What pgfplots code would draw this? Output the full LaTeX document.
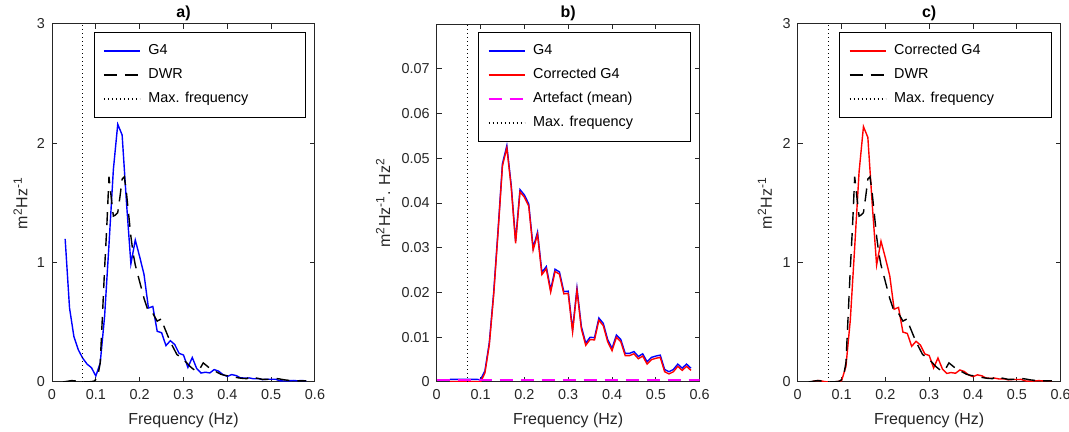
\documentclass[border=0pt]{standalone}
\usepackage{fontspec}
\setmainfont{Liberation Sans}
\usepackage{pgfplots}
\pgfplotsset{compat=1.18}
\usepackage{pgfplotstable}
\definecolor{axgray}{rgb}{0.15,0.15,0.15}
\definecolor{mblue}{rgb}{0,0,1}
\definecolor{mred}{rgb}{1,0,0}
\definecolor{mmag}{rgb}{1,0,1}

\pgfplotstableread{
f v
0.03 1.20
0.04 0.62
0.05 0.38
0.06 0.27
0.07 0.20
0.08 0.15
0.09 0.12
0.10 0.05
0.11 0.16
0.12 0.55
0.13 1.15
0.14 1.78
0.15 2.16
0.16 2.07
0.17 1.50
0.18 0.99
0.19 1.19
0.20 1.05
0.21 0.90
0.22 0.62
0.23 0.633
0.24 0.425
0.25 0.413
0.26 0.305
0.27 0.346
0.28 0.314
0.29 0.240
0.30 0.226
0.31 0.122
0.32 0.205
0.33 0.114
0.34 0.075
0.35 0.082
0.36 0.076
0.37 0.104
0.38 0.091
0.39 0.062
0.40 0.047
0.41 0.062
0.42 0.054
0.43 0.035
0.44 0.033
0.45 0.034
0.46 0.027
0.47 0.029
0.48 0.020
0.49 0.023
0.50 0.023
0.51 0.023
0.52 0.010
0.53 0.008
0.54 0.010
0.55 0.013
0.56 0.010
0.57 0.012
0.58 0.009
}\GfourA

\pgfplotstableread{
f v
0.025 0.000
0.035 0.006
0.045 0.012
0.055 0.008
0.065 0.003
0.075 0.002
0.085 0.002
0.095 0.006
0.100 0.020
0.105 0.060
0.110 0.160
0.115 0.550
0.120 0.950
0.125 1.300
0.130 1.720
0.135 1.550
0.140 1.390
0.145 1.400
0.150 1.420
0.155 1.550
0.160 1.700
0.165 1.720
0.170 1.580
0.175 1.400
0.180 1.220
0.185 1.080
0.190 0.980
0.195 0.910
0.200 0.840
0.210 0.700
0.220 0.590
0.230 0.575
0.240 0.510
0.250 0.530
0.255 0.470
0.265 0.380
0.275 0.300
0.285 0.230
0.295 0.205
0.305 0.170
0.315 0.130
0.325 0.100
0.335 0.095
0.345 0.160
0.355 0.130
0.365 0.100
0.375 0.085
0.385 0.065
0.395 0.055
0.405 0.050
0.415 0.042
0.425 0.035
0.435 0.030
0.445 0.028
0.450 0.045
0.460 0.037
0.470 0.030
0.480 0.022
0.490 0.022
0.500 0.025
0.510 0.030
0.520 0.025
0.530 0.018
0.540 0.014
0.550 0.011
0.560 0.010
0.570 0.010
0.580 0.010
}\DWR

\pgfplotstableread{
f blue red
0.03 0.0006 0.0001
0.04 0.0006 0.0001
0.05 0.0006 0.0001
0.06 0.0006 0.0001
0.07 0.0006 0.0001
0.08 0.0006 0.0001
0.09 0.0006 0.0001
0.10 0.0005 0.0000
0.11 0.0025 0.0020
0.12 0.0088 0.0083
0.13 0.0200 0.0195
0.14 0.0340 0.0335
0.15 0.0488 0.0483
0.16 0.0528 0.0523
0.17 0.0440 0.0435
0.18 0.0315 0.0310
0.19 0.0430 0.0425
0.20 0.0418 0.0413
0.21 0.0398 0.0393
0.22 0.0300 0.0295
0.23 0.0335 0.0330
0.24 0.0245 0.0240
0.25 0.0258 0.0253
0.26 0.0206 0.0201
0.27 0.0252 0.0247
0.28 0.0246 0.0241
0.29 0.0202 0.0197
0.30 0.0203 0.0198
0.31 0.0117 0.0112
0.32 0.0210 0.0205
0.33 0.0124 0.0119
0.34 0.0087 0.0082
0.35 0.0100 0.0095
0.36 0.0099 0.0094
0.37 0.0143 0.0138
0.38 0.0131 0.0126
0.39 0.0095 0.0090
0.40 0.0075 0.0070
0.41 0.0105 0.0100
0.42 0.0095 0.0090
0.43 0.0064 0.0059
0.44 0.0064 0.0059
0.45 0.0068 0.0063
0.46 0.0057 0.0052
0.47 0.0063 0.0058
0.48 0.0045 0.0040
0.49 0.0055 0.0050
0.50 0.0058 0.0053
0.51 0.0060 0.0055
0.52 0.0028 0.0023
0.53 0.0023 0.0018
0.54 0.0028 0.0023
0.55 0.0040 0.0035
0.56 0.0031 0.0026
0.57 0.0040 0.0035
0.58 0.0031 0.0026
}\GfourB

\pgfplotstableread{
f v
0.03 0.000
0.04 0.010
0.05 0.012
0.06 0.004
0.07 0.000
0.08 0.000
0.09 0.003
0.10 0.010
0.11 0.13
0.12 0.52
0.13 1.13
0.14 1.76
0.15 2.14
0.16 2.05
0.17 1.49
0.18 0.98
0.19 1.18
0.20 1.04
0.21 0.89
0.22 0.61
0.23 0.625
0.24 0.418
0.25 0.407
0.26 0.299
0.27 0.341
0.28 0.309
0.29 0.235
0.30 0.222
0.31 0.118
0.32 0.201
0.33 0.110
0.34 0.072
0.35 0.079
0.36 0.073
0.37 0.101
0.38 0.088
0.39 0.059
0.40 0.045
0.41 0.060
0.42 0.052
0.43 0.033
0.44 0.031
0.45 0.032
0.46 0.025
0.47 0.027
0.48 0.018
0.49 0.021
0.50 0.021
0.51 0.0215
0.52 0.0085
0.53 0.0066
0.54 0.0086
0.55 0.0117
0.56 0.0087
0.57 0.0108
0.58 0.0078
}\CorrC

\pgfplotsset{
  every axis title shift=0pt,
  panel/.style={
    scale only axis, width=131.5pt, height=179pt,
    anchor=south west,
    xmin=0, xmax=0.6, ymin=0,
    xtick={0,0.1,0.2,0.3,0.4,0.5,0.6},
    tick align=inside, tick pos=both, major tick length=2.5pt,
    axis line style={axgray, line width=0.5pt},
    every tick/.style={axgray, line width=0.5pt},
    tick label style={font=\fontsize{7.2}{8.6}\selectfont, text=axgray},
    /pgf/number format/assume math mode=true,
    scaled ticks=false,
    label style={font=\fontsize{8}{9.6}\selectfont, text=axgray},
    title style={font=\bfseries\fontsize{8}{9.6}\selectfont,
      at={(axis description cs:0.5,1)}, anchor=base, yshift=3.3pt},
    xlabel={Frequency (Hz)},
    legend style={at={(1,1)}, anchor=north east, xshift=-4.5pt, yshift=-4pt,
      draw=black, line width=0.5pt, fill=white,
      font=\fontsize{7.2}{8.6}\selectfont,
      inner xsep=4.5pt, inner ysep=3.25pt, row sep=0pt,
      nodes={inner ysep=2.5pt, inner xsep=4pt, text height=5.4pt, text depth=1.6pt}},
    legend cell align=left,
    legend image code/.code={\draw[#1] (0pt,0pt) -- (18pt,0pt);},
  },
  dwr/.style={black, line width=0.7pt, dash pattern=on 6.5pt off 4pt},
  maxf/.style={black, line width=0.6pt, dash pattern=on 0.6pt off 1.4pt},
}
\newcommand{\lt}[1]{\makebox[70pt][l]{#1}}

\begin{document}
\begin{tikzpicture}
\useasboundingbox (0,0) rectangle (534.5pt,216pt);
% a)
\begin{axis}[panel, at={(26pt,25pt)}, ymax=3, ytick={0,1,2,3},
  title={a)},
  ylabel={m\textsuperscript{2}Hz\textsuperscript{-1}},
  ylabel style={at={(axis description cs:-0.12,0.5)}, anchor=center}]
\addplot[mblue, line width=0.7pt] table[x=f, y=v] {\GfourA};
\addlegendentry{\lt{G4}}
\addplot[dwr] table[x=f, y=v] {\DWR};
\addlegendentry{\lt{DWR}}
\addplot[maxf] coordinates {(0.07,0) (0.07,3)};
\addlegendentry{\lt{Max. frequency}}
\end{axis}
% b)
\begin{axis}[panel, at={(218.35pt,25pt)}, ymax=0.08,
  ytick={0,0.01,0.02,0.03,0.04,0.05,0.06,0.07},
  yticklabel style={/pgf/number format/fixed, /pgf/number format/precision=2},
  title={b)},
  ylabel={m\textsuperscript{2}Hz\textsuperscript{-1}. Hz\textsuperscript{2}},
  ylabel style={at={(axis description cs:-0.204,0.5)}, anchor=center}]
\addplot[mblue, line width=0.7pt] table[x=f, y=blue] {\GfourB};
\addlegendentry{\lt{G4}}
\addplot[mred, line width=0.7pt] table[x=f, y=red] {\GfourB};
\addlegendentry{\lt{Corrected G4}}
\addplot[mmag, line width=0.7pt, dash pattern=on 6.5pt off 4pt] coordinates {(0,0.00045) (0.6,0.00045)};
\addlegendentry{\lt{Artefact (mean)}}
\addplot[maxf] coordinates {(0.07,0) (0.07,0.08)};
\addlegendentry{\lt{Max. frequency}}
\end{axis}
% c)
\begin{axis}[panel, at={(398.85pt,25pt)}, ymax=3, ytick={0,1,2,3},
  title={c)},
  ylabel={m\textsuperscript{2}Hz\textsuperscript{-1}},
  ylabel style={at={(axis description cs:-0.125,0.5)}, anchor=center}]
\addplot[mred, line width=0.7pt] table[x=f, y=v] {\CorrC};
\addlegendentry{\lt{Corrected G4}}
\addplot[dwr] table[x=f, y=v] {\DWR};
\addlegendentry{\lt{DWR}}
\addplot[maxf] coordinates {(0.07,0) (0.07,3)};
\addlegendentry{\lt{Max. frequency}}
\end{axis}
\end{tikzpicture}
\end{document}
